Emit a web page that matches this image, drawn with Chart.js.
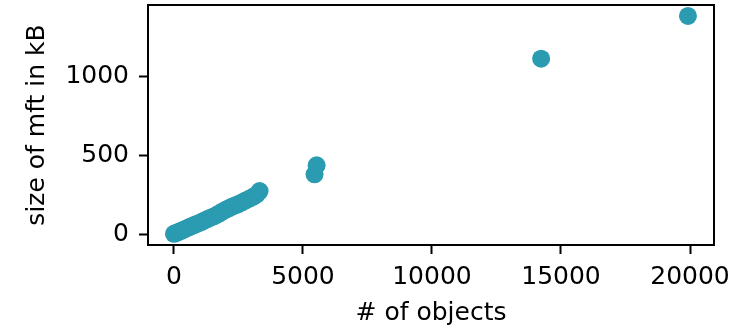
<!DOCTYPE html>
<html>
<head>
<meta charset="utf-8">
<script src="https://cdn.jsdelivr.net/npm/chart.js@4"></script>
<style>
  html, body { margin: 0; padding: 0; background: #fff; }
</style>
</head>
<body>
<canvas id="mftChart" width="741" height="328"></canvas>
<script>
// data
const objectCounts = [0, 60, 120, 200, 280, 380, 480, 580, 680, 780, 880, 980, 1080, 1180, 1300, 1420, 1540, 1660, 1780, 1900, 2020, 2140, 2260, 2380, 2500, 2640, 2780, 2920, 3060, 3200, 3320, 5450, 5530, 14230, 19920];
const mftSizes = [2, 6, 10, 15, 21, 28, 36, 43, 50, 57, 64, 71, 78, 86, 95, 104, 112, 122, 133, 145, 155, 165, 174, 182, 190, 201, 213, 224, 236, 249, 272, 378, 435, 1110, 1381];
const xTickValues = [0, 5000, 10000, 15000, 20000];
const yTickValues = [0, 500, 1000];

const pointColor = "#2a9bb0";
const plotTop = 5;

const noPadding = (scale) => {
  scale.paddingTop = 0;
  scale.paddingBottom = 0;
  scale.paddingLeft = 0;
  scale.paddingRight = 0;
};

// frame round the plot area (top and right sides too)
const framePlugin = {
  id: "frame",
  afterLayout(chart) {
    // chart.js keeps a few px above the plot, pull the top up
    const y = chart.scales.y;
    if (chart.chartArea.top > plotTop) {
      y.top = plotTop;
      y.height = y.bottom - plotTop;
      y.configure();
      chart.chartArea.top = plotTop;
      chart.chartArea.height = chart.chartArea.bottom - plotTop;
    }
  },
  afterDatasetsDraw(chart) {
    const { ctx, chartArea } = chart;
    ctx.save();
    ctx.strokeStyle = "#000";
    ctx.lineWidth = 2;
    ctx.strokeRect(chartArea.left, chartArea.top, chartArea.right - chartArea.left, chartArea.bottom - chartArea.top);
    ctx.restore();
  },
};

new Chart(document.getElementById("mftChart"), {
  type: "scatter",
  data: {
    datasets: [
      {
        label: "mft",
        data: objectCounts.map((x, i) => ({ x: x, y: mftSizes[i] })),
        backgroundColor: pointColor,
        borderColor: pointColor,
        pointRadius: 9,
        pointBorderWidth: 0,
      },
    ],
  },
  options: {
    responsive: false,
    animation: false,
    devicePixelRatio: 1,
    layout: { padding: { top: plotTop, right: 27, left: 0, bottom: 0 } },
    plugins: {
      legend: { display: false },
      tooltip: { enabled: false },
    },
    scales: {
      x: {
        type: "linear",
        min: -1005,
        max: 20930,
        afterBuildTicks: (scale) => {
          scale.ticks = xTickValues.map((v) => ({ value: v }));
        },
        afterFit: (scale) => {
          scale.height = 83;
          noPadding(scale);
        },
        grid: {
          drawOnChartArea: false,
          drawTicks: true,
          tickLength: 9,
          tickWidth: 2,
          tickColor: "#000",
        },
        border: { display: false },
        ticks: {
          color: "#000",
          padding: 8,
          maxRotation: 0,
          callback: (v) => String(v),
          font: { family: "DejaVu Sans", size: 25 },
        },
        title: {
          display: true,
          text: "# of objects",
          color: "#000",
          padding: { top: 0, bottom: 0 },
          font: { family: "DejaVu Sans", size: 25 },
        },
      },
      y: {
        type: "linear",
        min: -69,
        max: 1450,
        afterBuildTicks: (scale) => {
          scale.ticks = yTickValues.map((v) => ({ value: v }));
        },
        afterFit: (scale) => {
          scale.width = 148;
          noPadding(scale);
        },
        grid: {
          drawOnChartArea: false,
          drawTicks: true,
          tickLength: 9,
          tickWidth: 2,
          tickColor: "#000",
        },
        border: { display: false },
        ticks: {
          color: "#000",
          padding: 10,
          callback: (v) => String(v),
          font: { family: "DejaVu Sans", size: 25 },
        },
        title: {
          display: true,
          text: "size of mft in kB",
          color: "#000",
          padding: { top: 22, bottom: 0 },
          font: { family: "DejaVu Sans", size: 25 },
        },
      },
    },
  },
  plugins: [framePlugin],
});
</script>
</body>
</html>
